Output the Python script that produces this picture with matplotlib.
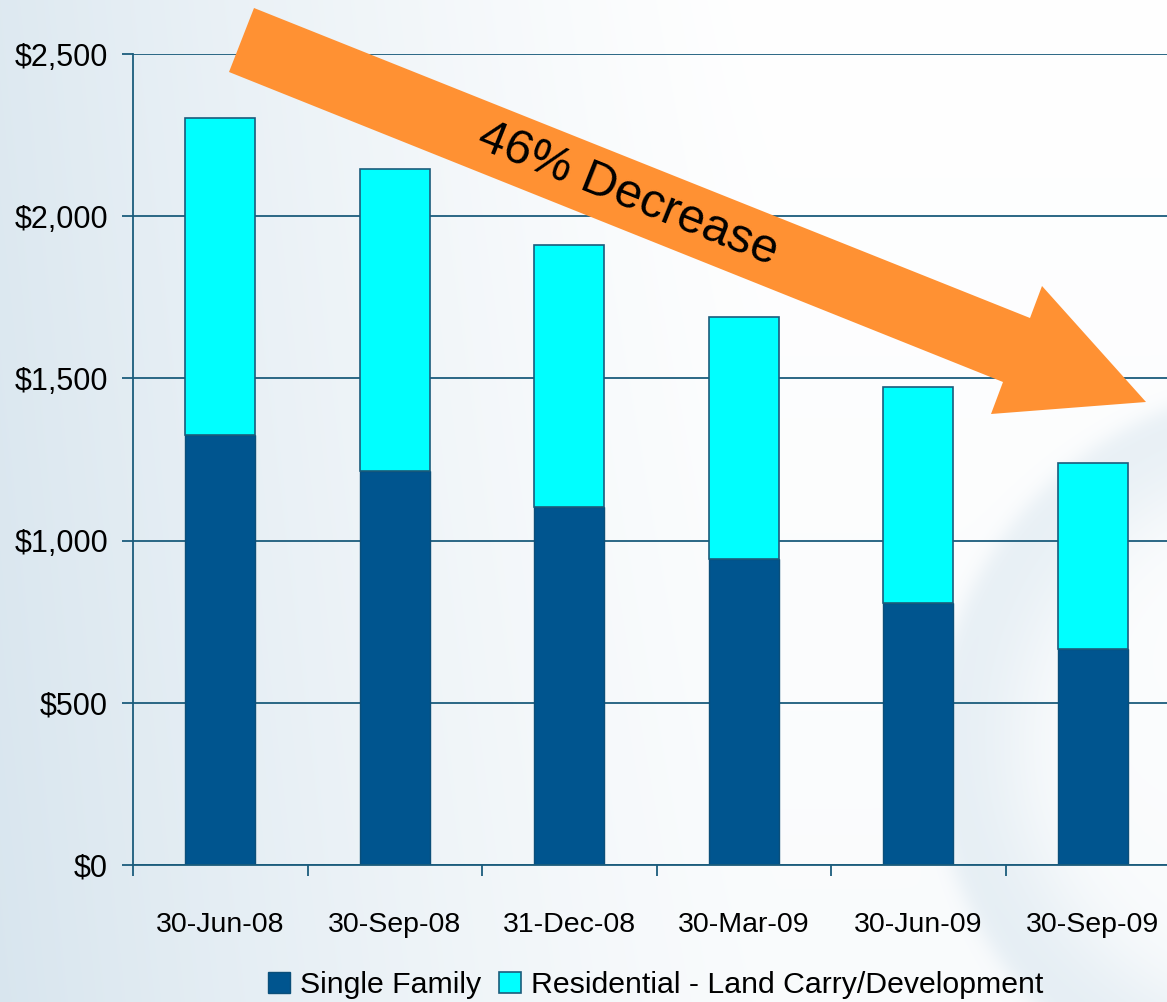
import numpy as np
from matplotlib import pyplot as plt
from matplotlib.patches import Polygon

plt.rcParams['font.family'] = ['Liberation Sans', 'DejaVu Sans']

# data ($ millions)
quarters = ["30-Jun-08", "30-Sep-08", "31-Dec-08", "30-Mar-09", "30-Jun-09", "30-Sep-09"]
single_family = [1325, 1214, 1104, 943, 808, 666]
land_carry = [977, 931, 807, 746, 665, 573]
y_ticks = [0, 500, 1000, 1500, 2000, 2500]

W, H = 1167, 1002
fig = plt.figure(figsize=(W / 100, H / 100), dpi=100)

# soft background: light blue on the left fading to white, faint ring on the right
bg = fig.add_axes([0, 0, 1, 1], zorder=-10)
yy, xx = np.mgrid[0:H, 0:W]
t = np.clip(1 - xx / 780.0, 0, 1) ** 1.3 * 0.7 + (yy / H) * 0.12
r = np.hypot(xx - 1300, yy - 750)
band = 1 / (1 + np.exp((r - 366) / 6.0)) * 1 / (1 + np.exp(-(r - 280) / 25.0))
a = np.clip(t + band * 0.45, 0, 1)
light = np.array([255, 255, 255]) / 255.0
blue = np.array([208, 224, 235]) / 255.0
img = light[None, None, :] * (1 - a[..., None]) + blue[None, None, :] * a[..., None]
bg.imshow(img, aspect='auto', extent=[0, 1, 0, 1], origin='upper')
bg.axis('off')

teal = '#1B5C7C'
ax = fig.add_axes([133 / W, 1 - 865 / H, (1180 - 133) / W, (865 - 54) / H])
ax.set_facecolor('none')

x = np.arange(len(quarters))
b1 = ax.bar(x, single_family, width=0.4, color='#00558F', edgecolor='#0B4F7A', linewidth=1)
b2 = ax.bar(x, land_carry, width=0.4, bottom=single_family, color='#00FFFF',
            edgecolor=teal, linewidth=1.2)

ax.set_xlim(-0.5, len(quarters) - 0.5)
ax.set_ylim(0, 2500)
ax.set_yticks(y_ticks)
ax.set_yticklabels(['${:,}'.format(v) for v in y_ticks], fontsize=22)
ax.set_xticks(np.arange(len(quarters) + 1) - 0.5, minor=False)
ax.set_xticklabels([])
ax.set_xticks(x, minor=True)
ax.set_xticklabels(quarters, minor=True, fontsize=20.5)
ax.tick_params(axis='x', which='minor', length=0, pad=34)
ax.tick_params(axis='x', which='major', length=8, width=1.3, color=teal)
ax.tick_params(axis='y', length=8, width=1.3, color=teal, pad=10)

ax.yaxis.grid(True, color=teal, linewidth=1.3)
ax.set_axisbelow(True)
for side in ['top', 'right']:
    ax.spines[side].set_visible(False)
for side in ['left', 'bottom']:
    ax.spines[side].set_color(teal)
    ax.spines[side].set_linewidth(1.3)

fig.legend([b1, b2], ["Single Family", "Residential - Land Carry/Development"],
           loc='center', bbox_to_anchor=(656 / W, 1 - 985 / H), ncol=2, frameon=False,
           fontsize=21.8, handlelength=0.7, handleheight=0.7, handletextpad=0.35,
           columnspacing=0.6, borderaxespad=0)

# big orange arrow with the label along it
pts = [(254, 8), (1030, 318), (1042, 286), (1146, 402), (991, 414), (1003, 382), (229, 72)]
arrow = Polygon([(px / W, 1 - py / H) for px, py in pts], closed=True,
                facecolor='#FF9133', edgecolor='none', transform=fig.transFigure, zorder=5)
fig.patches.append(arrow)
fig.text(628 / W, 1 - 195 / H, "46% Decrease", fontsize=35, rotation=-21.8,
         rotation_mode='anchor', ha='center', va='center', color='black', zorder=6)

fig.savefig('out.png', dpi=100)
